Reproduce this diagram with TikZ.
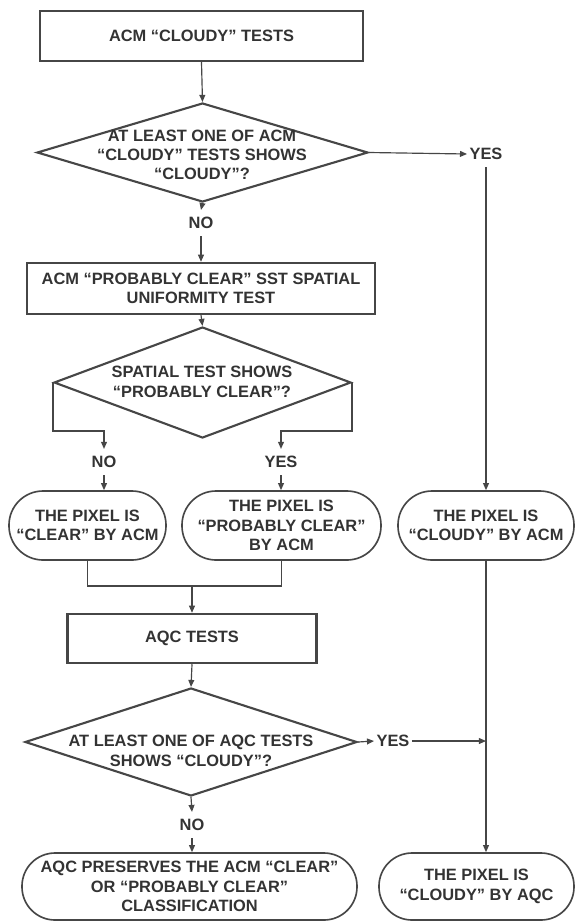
\documentclass[tikz,border=0pt]{standalone}
\usepackage{fontspec}
\setmainfont{Liberation Sans}
\usetikzlibrary{arrows.meta,shapes.geometric}
\definecolor{ink}{HTML}{333333}
\definecolor{lin}{HTML}{464646}
\begin{document}
\begin{tikzpicture}[x=0.03cm,y=-0.03cm,
  every node/.style={font=\bfseries\fontsize{14}{16.5}\selectfont, text=ink, align=center},
  box/.style 2 args={rectangle, draw=lin, line width=2.1pt, minimum width={#1*0.03cm}, minimum height={#2*0.03cm}, inner sep=0pt},
  oval/.style 2 args={rectangle, draw=lin, line width=1.4pt, rounded corners={#2*0.0148cm}, minimum width={#1*0.03cm}, minimum height={#2*0.03cm}, inner sep=0pt},
  dia/.style 2 args={diamond, draw=lin, line width=1.8pt, minimum width={#1*0.03cm}, minimum height={#2*0.03cm}, inner sep=0pt},
  txt/.style={inner sep=0pt},
  lab/.style={inner xsep=2pt, inner ysep=6pt},
  conn/.style={draw=lin, line width=1pt},
  arr/.style={draw=lin, line width=1pt, -{Triangle[length=6pt,width=5pt]}}]
\fill[white] (0,0) rectangle (574,921);
\useasboundingbox (0,0) rectangle (574,921);

\node[box={323}{50}] (b1) at (201.5,36) {ACM “CLOUDY” TESTS};
\node[dia={331}{99}] (d1) at (202.5,152.5) {};
\node[txt] (d1t) at (202,155) {AT LEAST ONE OF ACM\\“CLOUDY” TESTS SHOWS\\“CLOUDY”?};
\node[lab] (yes1) at (486,154) {YES};
\node[lab] (no1) at (201,223) {NO};
\node[box={348}{51}] (b2) at (201,288.5) {ACM “PROBABLY CLEAR” SST SPATIAL\\UNIFORMITY TEST};
\node[dia={297}{111}] (d2) at (202.5,382.5) {};
\node[txt] (d2t) at (202,382) {SPATIAL TEST SHOWS\\“PROBABLY CLEAR”?};
\node[lab] (no2) at (104,462) {NO};
\node[lab] (yes2) at (281,462) {YES};
\node[oval={157}{69}] (o1) at (87.5,525.5) {THE PIXEL IS\\“CLEAR” BY ACM};
\node[oval={199}{69}] (o2) at (281.5,525.5) {THE PIXEL IS\\“PROBABLY CLEAR”\\BY ACM};
\node[oval={176}{69}] (o3) at (486,525.5) {THE PIXEL IS\\“CLOUDY” BY ACM};
\coordinate (mrg) at (192,586);
\coordinate (legL) at (104,431);
\coordinate (legR) at (281,431);
\node[box={249}{49}] (b3) at (192,638.5) {AQC TESTS};
\node[dia={332}{108}] (d3) at (191,742) {};
\node[txt] (d3t) at (191,751) {AT LEAST ONE OF AQC TESTS\\SHOWS “CLOUDY”?};
\node[lab] (yes3) at (393,741) {YES};
\node[lab] (no3) at (192,825) {NO};
\node[oval={335}{67}] (o4) at (189.5,886.5) {AQC PRESERVES THE ACM “CLEAR”\\OR “PROBABLY CLEAR”\\CLASSIFICATION};
\node[oval={195}{67}] (o5) at (476.5,886.5) {THE PIXEL IS\\“CLOUDY” BY AQC};

\draw[arr] (b1.south) -- (d1.north);
\draw[arr] (d1.east) -- (yes1.west);
\draw[arr] (yes1.south) -- (yes1.south |- o3.north);
\draw[arr] (d1.south) -- (no1.north);
\draw[arr] (no1.south) -- (b2.north);
\draw[arr] (b2.south) -- (d2.north);
\draw[arr] (d2.west) |- (legL) -- (no2.north);
\draw[arr] (d2.east) |- (legR) -- (yes2.north);
\draw[arr] (no2.south) -- (no2.south |- o1.north);
\draw[arr] (yes2.south) -- (yes2.south |- o2.north);
\draw[conn] (o1.south) |- (mrg) -| (o2.south);
\draw[arr] (mrg) -- (b3.north);
\draw[arr] (b3.south) -- (d3.north);
\draw[arr] (d3.east) -- (yes3.west);
\draw[arr] (yes3.east) -- (yes3.east -| o3.south);
\draw[arr] (o3.south) -- (o3.south |- o5.north);
\draw[arr] (d3.south) -- (no3.north);
\draw[arr] (no3.south) -- (no3.south |- o4.north);
\end{tikzpicture}
\end{document}
